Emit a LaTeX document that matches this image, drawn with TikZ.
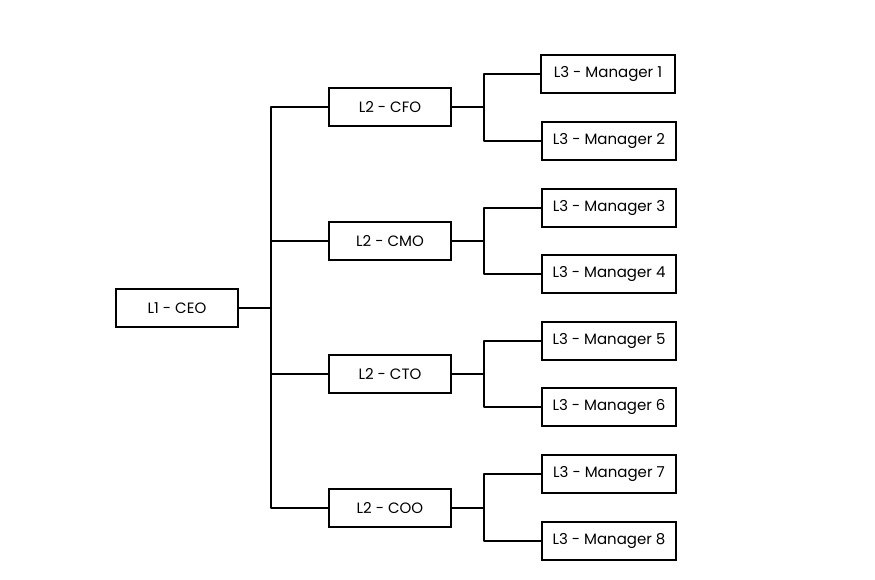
\documentclass[tikz,border=0pt]{standalone}
\usepackage{fontspec}
\setmainfont{Poppins}
\begin{document}
\begin{tikzpicture}[x=1pt,y=-1pt,
  box/.style={draw=black, line width=2.2pt, fill=white, minimum height=38pt, inner sep=0pt, font=\fontsize{15}{17}\selectfont},
  lone/.style={box, minimum width=122pt},
  ltwo/.style={box, minimum width=122pt},
  lthree/.style={box, minimum width=134pt},
  conn/.style={line width=1.8pt, line cap=round, line join=round}]
\useasboundingbox (0,0) rectangle (875,579);
\node[lone] (ceo) at (177,308) {L1 - CEO};
\node[ltwo] (cfo) at (390,107) {L2 - CFO};
\node[ltwo] (cmo) at (390,241) {L2 - CMO};
\node[ltwo] (cto) at (390,374) {L2 - CTO};
\node[ltwo] (coo) at (390,508) {L2 - COO};
\node[lthree] (m1) at (608,74) {L3 - Manager 1};
\node[lthree] (m2) at (609,141) {L3 - Manager 2};
\node[lthree] (m3) at (609,208) {L3 - Manager 3};
\node[lthree] (m4) at (609,274) {L3 - Manager 4};
\node[lthree] (m5) at (609,341) {L3 - Manager 5};
\node[lthree] (m6) at (609,407) {L3 - Manager 6};
\node[lthree] (m7) at (609,474) {L3 - Manager 7};
\node[lthree] (m8) at (609,541) {L3 - Manager 8};
\coordinate (tr) at (271,0);
\foreach \n in {cfo,cmo,cto,coo}{
  \draw[conn] (ceo.east) -| (tr |- \n.west) -- (\n.west);
}
\foreach \p/\a/\b in {cfo/m1/m2, cmo/m3/m4, cto/m5/m6, coo/m7/m8}{
  \coordinate (b\p) at (484,0);
  \draw[conn] (\p.east) -- (b\p |- \p.east) |- (\a.west);
  \draw[conn] (b\p |- \p.east) |- (\b.west);
}
\end{tikzpicture}
\end{document}
